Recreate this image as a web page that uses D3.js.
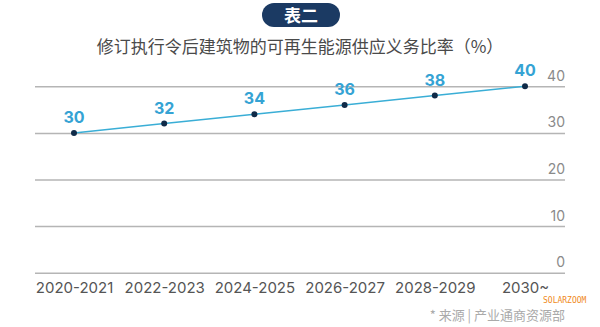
<!DOCTYPE html>
<html><head><meta charset="utf-8">
<script src="https://cdn.jsdelivr.net/npm/d3@7/dist/d3.min.js"></script>
<style>body{margin:0;background:#fff;}svg{display:block;}</style>
</head><body>
<svg id="c" width="600" height="327"></svg>
<script>
const categories = ["2020-2021","2022-2023","2024-2025","2026-2027","2028-2029","2030~"];
const values = [30,32,34,36,38,40];
const yTicks = [0,10,20,30,40];
const badgeText = "表二";
const titleText = "修订执行令后建筑物的可再生能源供应义务比率（%）";
const sourceText = "* 来源 | 产业通商资源部";

const svg = d3.select("#c");
const font = "'Noto Sans CJK SC','Noto Sans',sans-serif";
const left = 35, right = 565;
const x = d3.scalePoint().domain(categories).range([74, 525]);
const y = d3.scaleLinear().domain([0,40]).range([272.7, 86.3]);

// badge
svg.append("rect").attr("x",262).attr("y",3).attr("width",78).attr("height",24).attr("rx",12).attr("fill","#1b3a63");
svg.append("text").attr("x",301).attr("y",21.5).attr("text-anchor","middle").attr("fill","#fff")
  .attr("font-family",font).attr("font-size",17).attr("font-weight","bold").text(badgeText);
// title
svg.append("text").attr("x",300).attr("y",53).attr("text-anchor","middle").attr("fill","#4a4a4a")
  .attr("font-family",font).attr("font-size",17).text(titleText);

// grid + right axis
const yAxis = d3.axisRight(y).tickValues(yTicks).tickSize(-(right-left)).tickPadding(0);
const g = svg.append("g").attr("transform",`translate(${right},0)`).call(yAxis);
g.select(".domain").remove();
g.selectAll(".tick line").attr("stroke","#b5b5b5").attr("stroke-width",1.5);
g.selectAll(".tick text").attr("x",0).attr("dy",-6).attr("text-anchor","end")
  .attr("fill","#8a8a8a").attr("font-family","'Inter','Noto Sans',sans-serif").attr("font-size",14);

// x axis labels
const xAxis = d3.axisBottom(x).tickSize(0).tickPadding(0);
const gx = svg.append("g").attr("transform","translate(0,280)").call(xAxis);
gx.select(".domain").remove();
gx.selectAll(".tick text").attr("dy",13).attr("fill","#555").attr("font-family","'Inter','Noto Sans',sans-serif").attr("font-size",15);

// line
const data = categories.map((c,i)=>({c, v: values[i]}));
svg.append("path").datum(data).attr("fill","none").attr("stroke","#3aaed6").attr("stroke-width",1.5)
  .attr("d", d3.line().x(d=>x(d.c)).y(d=>y(d.v)));
svg.selectAll("circle.pt").data(data).join("circle").attr("class","pt")
  .attr("cx",d=>x(d.c)).attr("cy",d=>y(d.v)).attr("r",3).attr("fill","#0f2a48");
svg.selectAll("text.lbl").data(data).join("text").attr("class","lbl")
  .attr("x",d=>x(d.c)).attr("y",d=>y(d.v)-10).attr("text-anchor","middle")
  .attr("fill","#35a3d4").attr("font-weight","bold").attr("font-size",16)
  .attr("font-family","'Inter','Noto Sans',sans-serif").text(d=>d.v);

// source
svg.append("text").attr("x",565).attr("y",320).attr("text-anchor","end").attr("fill","#aaa")
  .attr("font-family",font).attr("font-size",13).text(sourceText);
svg.append("text").attr("x",543).attr("y",303).attr("fill","#f08a1c")
  .attr("font-family","'DejaVu Sans Mono',monospace").attr("font-size",8).text("SOLARZOOM");
</script>
</body></html>
